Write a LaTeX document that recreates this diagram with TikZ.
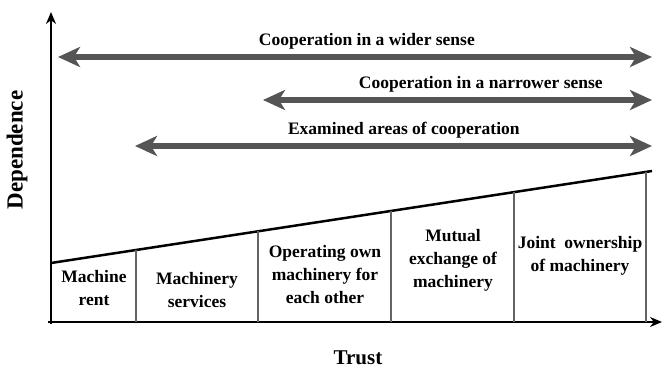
\documentclass[tikz,border=0pt]{standalone}
\usepackage{fontspec}
\setmainfont{Liberation Serif}
\usetikzlibrary{arrows.meta}
\definecolor{arrowgray}{RGB}{85,85,85}
\definecolor{divgray}{RGB}{100,100,100}
\begin{document}
\begin{tikzpicture}[
    x			= 1pt,
    y			= -1pt,
    axis/.style		= {line width=2.5pt, -{Stealth[length=12pt, width=10pt]}},
    span/.style		= {arrowgray, line width=6pt,
                           {Stealth[length=22pt, width=20pt, inset=6pt]}-{Stealth[length=22pt, width=20pt, inset=6pt]}},
    spanlabel/.style	= {anchor=base, yshift=12pt, text=black, font=\fontsize{17.5}{21}\selectfont\bfseries},
    form/.style		= {align=center, inner sep=0pt, font=\fontsize{17.5}{23}\selectfont\bfseries},
    divider/.style	= {divgray, line width=1.2pt}
  ]
\useasboundingbox (0,0) rectangle (665,370);
% axes
\coordinate (origin) at (51,322);
\draw[axis] (48,322) -- (662,322) coordinate (xend);
\draw[axis] (51,324) -- (51,12) coordinate (yend);
\node[font=\fontsize{23}{26}\selectfont\bfseries, rotate=90] (dep) at (17,150) {Dependence};
\node[font=\fontsize{21}{24}\selectfont\bfseries, anchor=base] (trust) at (358,364) {Trust};
% sloped line
\coordinate (slopeL) at (51,263);
\coordinate (slopeR) at (652,171);
\draw[line width=2.5pt] (slopeL) -- (slopeR)
  coordinate[pos=0.1414] (d1)
  coordinate[pos=0.3444] (d2)
  coordinate[pos=0.5657] (d3)
  coordinate[pos=0.7704] (d4)
  coordinate[pos=0.99] (d5);
% dividers
\foreach \d in {d1,d2,d3,d4,d5}
  \draw[divider] (\d) -- (\d |- origin);
% forms of cooperation
\node[form] (rent) at (94,288) {Machine\\rent};
\node[form] (service) at (197,290) {Machinery\\services};
\node[form] (operate) at (325,275) {Operating own\\machinery for\\each other};
\node[form] (exchange) at (453,260) {Mutual\\exchange of\\machinery};
\node[form] (joint) at (580,256) {Joint\ \ ownership\\of machinery};
% ranges
\coordinate (wideL) at (58,57);
\coordinate (wideR) at (652,57);
\coordinate (narrowL) at (263,100);
\coordinate (narrowR) at (652,100);
\coordinate (examL) at (135,146);
\coordinate (examR) at (652,146);
\draw[span] (wideL) -- node[spanlabel, pos=0.52] (wide) {Cooperation in a wider sense} (wideR);
\draw[span] (narrowL) -- node[spanlabel, pos=0.56] (narrow) {Cooperation in a narrower sense} (narrowR);
\draw[span] (examL) -- node[spanlabel, pos=0.52] (exam) {Examined areas of cooperation} (examR);
%
\end{tikzpicture}
\end{document}
